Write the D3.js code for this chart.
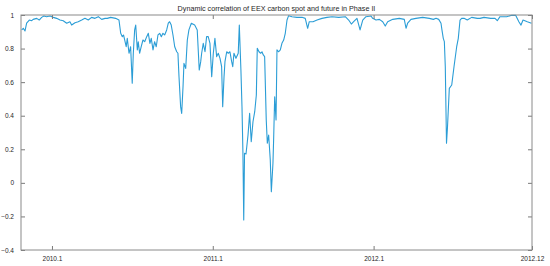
<!DOCTYPE html>
<html>
<head>
<meta charset="utf-8">
<script src="https://cdn.jsdelivr.net/npm/d3@7"></script>
<style>
    body { margin: 0; background: #fff; }
    text { font-family: "Liberation Sans", Arial, sans-serif; fill: #262626; }
</style>
</head>
<body>
<script>
// time axis is in months counted from 2010.1
var months = [
    -2.26,-2.14,-2.01,-1.89,-1.69,-1.51,-1.40,-1.14,-0.95,-0.77,-0.60,-0.40,-0.15,0.10,0.35,0.60,0.84,1.10,1.34,1.47,
    1.72,1.96,2.22,2.46,2.71,2.96,3.21,3.46,3.71,3.96,4.13,4.38,4.75,5.00,
    5.13,5.25,5.34,5.43,5.54,5.62,5.75,5.87,5.99,6.07,6.17,6.25,6.37,6.44,6.54,6.66,6.79,6.92,7.07,7.19,
    7.31,7.41,7.54,7.66,7.78,7.91,8.04,8.16,8.28,8.41,8.56,8.68,8.78,8.90,9.03,9.16,9.31,9.40,9.48,9.60,
    9.68,9.78,9.85,9.98,10.10,10.22,
    10.40,10.65,10.84,10.99,11.10,11.17,11.29,11.42,11.54,11.66,11.79,11.92,12.04,12.16,12.29,12.41,12.54,12.66,12.74,12.84,
    12.91,13.04,13.16,13.28,13.41,13.49,13.58,13.73,13.90,13.98,14.10,14.18,14.25,14.31,14.37,14.48,14.63,14.75,14.87,15.00,
    15.13,15.25,15.32,15.45,15.57,15.67,15.77,15.87,15.99,16.07,16.17,16.29,16.37,16.49,16.54,16.62,16.72,16.79,
    16.92,17.04,17.16,17.29,17.41,17.54,17.66,17.91,18.28,18.66,18.90,19.08,19.20,19.48,19.78,20.15,20.52,20.90,21.40,21.89,
    22.14,22.34,22.51,22.76,
    22.99,23.19,23.43,23.81,23.93,24.18,24.43,24.68,24.87,25.05,25.43,25.92,26.29,26.42,26.54,26.79,27.16,27.66,28.16,28.46,
    28.66,28.86,29.03,29.10,29.20,29.28,29.35,29.44,29.51,29.65,29.83,30.00,30.20,30.32,30.45,30.57,30.75,30.99,31.32,31.74,
    31.94,32.24,32.74,33.06,33.23,33.43,33.93,34.31,34.60,34.85,35.00,35.15,35.47,35.78
];

var corr = [
    0.911,0.921,0.905,0.951,0.970,0.966,0.974,0.980,0.970,0.986,0.994,0.990,0.994,0.986,0.980,0.970,0.966,0.951,0.960,0.940,
    0.954,0.960,0.970,0.980,0.970,0.986,0.980,0.990,0.974,0.980,0.980,0.986,0.980,0.970,
    0.891,0.871,0.881,0.851,0.811,0.861,0.772,0.811,0.593,0.772,0.911,0.940,0.792,0.841,0.772,0.811,0.851,0.841,0.871,0.891,
    0.831,0.861,0.792,0.841,0.811,0.881,0.891,0.871,0.891,0.881,0.911,0.951,0.960,0.940,0.881,0.811,0.781,0.772,0.632,0.454,
    0.414,0.573,0.712,0.682,0.851,0.911,
    0.951,0.940,0.911,0.672,0.722,0.772,0.831,0.781,0.871,0.871,0.831,0.632,0.772,0.861,0.752,0.772,0.742,0.692,0.454,0.632,
    0.722,0.781,0.772,0.781,0.722,0.692,0.772,0.742,0.772,0.940,0.672,0.454,0.176,-0.221,0.176,0.172,0.285,0.414,0.245,0.364,
    0.424,0.523,0.802,0.781,0.772,0.781,0.762,0.752,0.375,0.236,0.285,0.136,-0.053,0.117,0.255,0.513,0.375,0.792,
    0.781,0.792,0.831,0.851,0.891,0.970,0.996,0.990,0.986,0.986,0.980,0.921,0.960,0.960,0.970,0.980,0.986,0.990,0.986,0.990,
    0.970,0.946,0.960,0.980,
    0.911,0.970,0.990,0.994,0.980,0.970,0.974,0.960,0.934,0.960,0.974,0.980,0.974,0.921,0.951,0.974,0.980,0.986,0.980,0.974,
    0.980,0.974,0.951,0.911,0.861,0.841,0.692,0.236,0.327,0.563,0.583,0.692,0.811,0.861,0.970,0.980,0.980,0.970,0.986,0.980,
    0.980,0.986,0.980,0.980,0.966,0.990,0.990,0.998,0.998,0.958,0.940,0.970,0.960,0.951
];

var xTickValues = [0, 12, 24, 35.82];
var xTickLabels = ["2010.1", "2011.1", "2012.1", "2012.12"];
var yTickValues = [-0.4, -0.2, 0, 0.2, 0.4, 0.6, 0.8, 1];
var title = "Dynamic correlation of EEX carbon spot and future in Phase II";

var width = 550, height = 266;
var margin = { top: 15, right: 18, bottom: 16, left: 21 };
var w = width - margin.left - margin.right;
var h = height - margin.top - margin.bottom;

var data = months.map(function(m, i) { return { t: m, v: corr[i] }; });

var x = d3.scaleLinear().domain([-2.31, 35.82]).range([0, w]);
var y = d3.scaleLinear().domain([-0.4, 1]).range([h, 0]);

var svg = d3.select("body")
    .append("svg")
    .attr("width", width)
    .attr("height", height)
    .append("g")
    .attr("transform", "translate(" + margin.left + "," + margin.top + ")");

// the line
var line = d3.line()
    .x(function(d) { return x(d.t); })
    .y(function(d) { return y(d.v); });

svg.append("path")
    .datum(data)
    .attr("fill", "none")
    .attr("stroke", "#2b9dd6")
    .attr("stroke-width", 1.1)
    .attr("stroke-linejoin", "round")
    .attr("d", line);

// matlab style box with inward ticks on all four sides
var tickLen = 4;
function styleAxis(g) {
    g.select(".domain").remove();
    g.selectAll("line").attr("stroke", "#7a7a7a");
    g.selectAll("text").attr("font-size", "6.5px").attr("fill", "#333");
}

svg.append("g")
    .attr("transform", "translate(0," + h + ")")
    .call(d3.axisBottom(x).tickValues(xTickValues)
        .tickFormat(function(d, i) { return xTickLabels[i]; })
        .tickSizeInner(-tickLen).tickSizeOuter(0).tickPadding(6))
    .call(styleAxis);

svg.append("g")
    .call(d3.axisTop(x).tickValues(xTickValues).tickFormat("")
        .tickSizeInner(-tickLen).tickSizeOuter(0))
    .call(styleAxis);

svg.append("g")
    .call(d3.axisLeft(y).tickValues(yTickValues)
        .tickFormat(function(d) { return d3.format("")(d); })
        .tickSizeInner(-tickLen).tickSizeOuter(0).tickPadding(7))
    .call(styleAxis);

svg.append("g")
    .attr("transform", "translate(" + w + ",0)")
    .call(d3.axisRight(y).tickValues(yTickValues).tickFormat("")
        .tickSizeInner(-tickLen).tickSizeOuter(0))
    .call(styleAxis);

svg.append("rect")
    .attr("x", 0)
    .attr("y", 0)
    .attr("width", w)
    .attr("height", h)
    .attr("fill", "none")
    .attr("stroke", "#8a8a8a")
    .attr("stroke-width", 1);

// title
svg.append("text")
    .attr("x", w / 2)
    .attr("y", -4)
    .attr("text-anchor", "middle")
    .attr("font-size", "7.2px")
    .text(title);
</script>
</body>
</html>
